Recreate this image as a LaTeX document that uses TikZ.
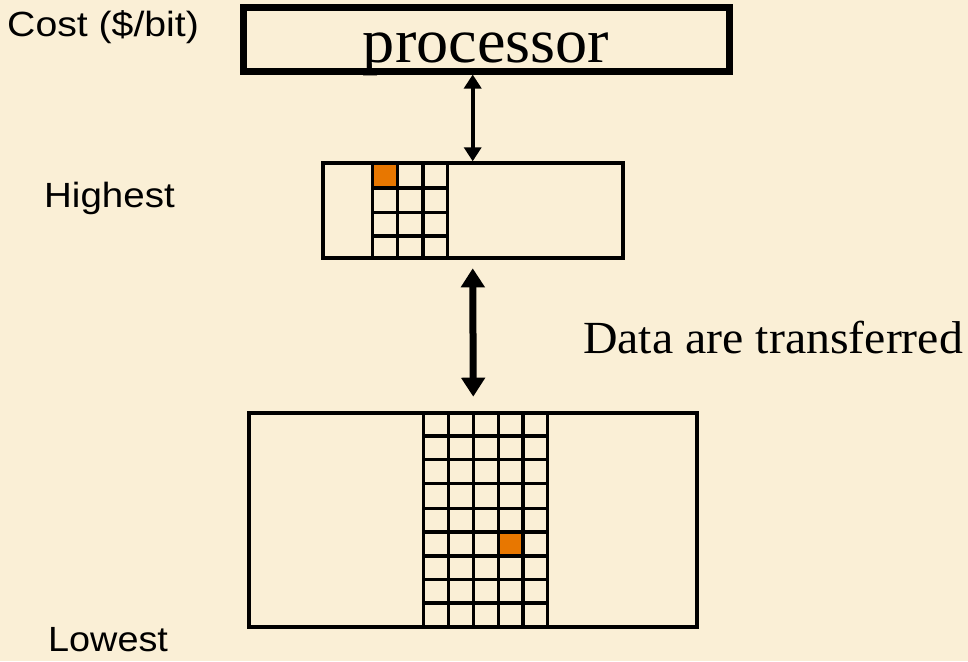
\documentclass[tikz,border=0pt]{standalone}
\usepackage{fontspec}
\setmainfont{Liberation Serif}
\newfontfamily\labelfont{Liberation Sans}
\usetikzlibrary{arrows.meta,calc}
\definecolor{bgbeige}{RGB}{250,239,214}
\definecolor{cellorange}{RGB}{232,119,0}
\tikzset{
  sidelabel/.style={anchor=base west,inner sep=0pt,font=\labelfont\fontsize{35}{40}\selectfont},
  seriftext/.style={anchor=base west,inner sep=0pt,font=\fontsize{46}{52}\selectfont},
  membox/.style={draw,line width=4pt,rectangle,inner sep=0pt},
  gridline/.style={line width=3.6pt},
  thinarrow/.style={line width=4pt,{Triangle[length=14pt,width=17pt]}-{Triangle[length=14pt,width=17pt]}},
  thickarrow/.style={line width=7pt,{Triangle[length=19pt,width=23pt]}-{Triangle[length=19pt,width=23pt]}},
}
\begin{document}
\begin{tikzpicture}[x=1pt,y=-1pt]
\fill[bgbeige] (0,0) rectangle (968,661);
\useasboundingbox (0,0) rectangle (968,661);

% processor
\node[draw,line width=7pt,rectangle,inner sep=0pt,minimum width=486pt,minimum height=63pt] (proc) at (486,39.5) {};
\node[anchor=base,inner sep=0pt,font=\fontsize{63}{70}\selectfont] (proctext) at (486,63) {\scalebox{1.02}[1]{processor}};

% cache (upper level)
\fill[cellorange] (372.3,163.3) rectangle (397.3,187.7);
\node[membox,minimum width=300pt,minimum height=95pt] (cache) at (472.7,210.8) {};
\foreach \x in {372.3,397.3,422.7,447.3} \draw[gridline] (\x,163.3) -- (\x,258.3);
\foreach \y in {187.7,212.3,236} \draw[gridline] (372.3,\y) -- (447.3,\y);

% main memory (lower level)
\fill[cellorange] (498.3,531.7) rectangle (522.7,555.7);
\node[membox,minimum width=448pt,minimum height=214.6pt] (mem) at (473.3,520) {};
\foreach \x in {423.3,448.3,473.3,498.3,522.7,547.3} \draw[gridline] (\x,412.7) -- (\x,627.3);
\foreach \y in {436,459.3,483.3,508.3,531.7,555.7,579.3,602.7} \draw[gridline] (423.3,\y) -- (547.3,\y);

% connectors
\draw[thinarrow] (proc.south -| cache.north) -- (cache.north);
\draw[thickarrow,shorten <=8pt,shorten >=14pt] (cache.south) -- (mem.north);

% labels
\node[sidelabel] (cost) at (7,36.7) {\scalebox{1.12}[1]{Cost (\$/bit)}};
\node[sidelabel] (high) at (44,207.3) {\scalebox{1.1}[1]{Highest}};
\node[sidelabel] (low) at (48,651.7) {\scalebox{1.08}[1]{Lowest}};
\node[seriftext] (data) at (583,353) {\scalebox{1.04}[1]{Data are transferred}};
\end{tikzpicture}
\end{document}
